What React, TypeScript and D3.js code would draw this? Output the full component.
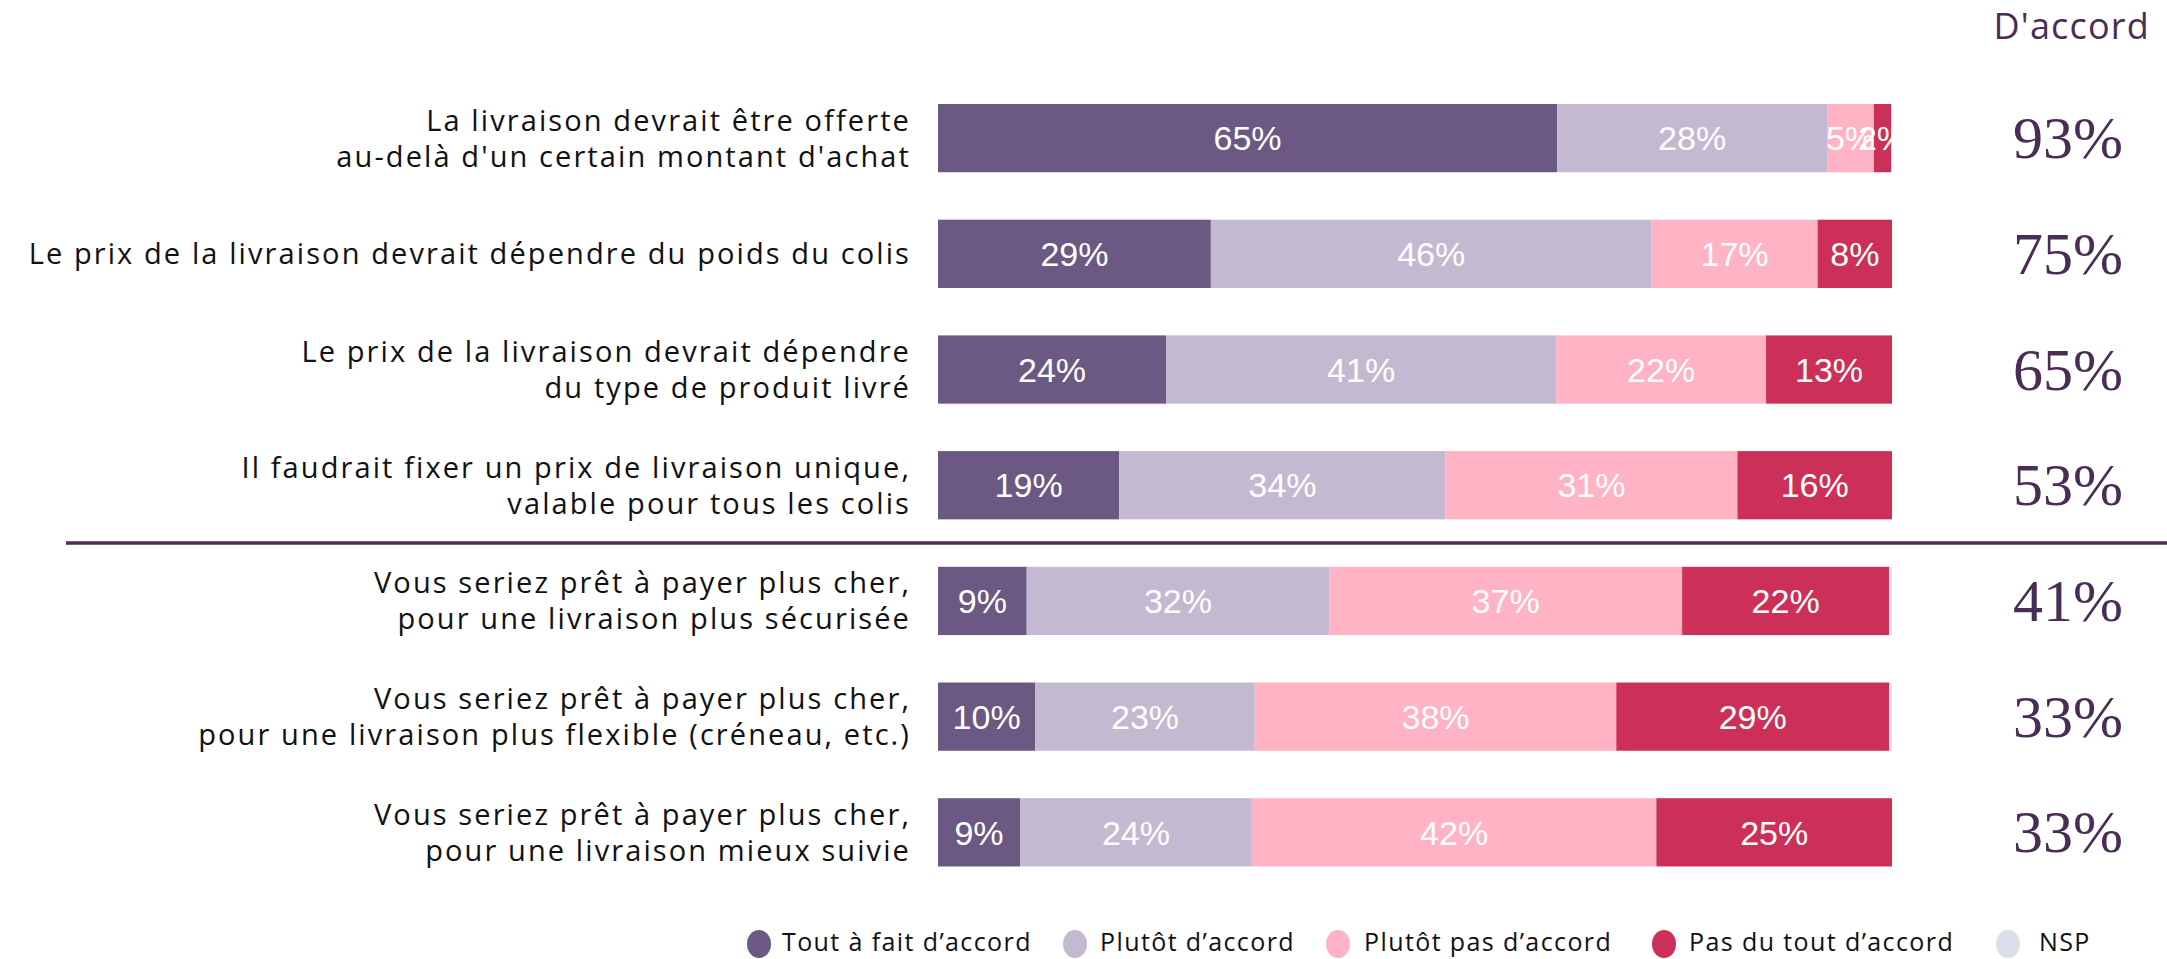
import React from "react";
import * as d3 from "d3";

const categories: string[][] = [
  ["La livraison devrait être offerte", "au-delà d'un certain montant d'achat"],
  ["Le prix de la livraison devrait dépendre du poids du colis"],
  ["Le prix de la livraison devrait dépendre", "du type de produit livré"],
  ["Il faudrait fixer un prix de livraison unique,", "valable pour tous les colis"],
  ["Vous seriez prêt à payer plus cher,", "pour une livraison plus sécurisée"],
  ["Vous seriez prêt à payer plus cher,", "pour une livraison plus flexible (créneau, etc.)"],
  ["Vous seriez prêt à payer plus cher,", "pour une livraison mieux suivie"],
];

const seriesNames = ["Tout à fait d’accord", "Plutôt d’accord", "Plutôt pas d’accord", "Pas du tout d’accord", "NSP"];
const seriesColors = ["#6b5883", "#c3b9d1", "#ffb3c5", "#cc3058", "#dcdee9"];

const toutAFait = [64.9, 28.6, 23.9, 19.0, 9.3, 10.2, 8.6];
const plutot = [28.3, 46.2, 40.9, 34.2, 31.7, 23.0, 24.3];
const plutotPas = [4.9, 17.4, 22.0, 30.6, 37.0, 37.9, 42.4];
const pasDuTout = [1.8, 7.8, 13.2, 16.2, 21.7, 28.6, 24.7];
const nsp = [0.1, 0.0, 0.0, 0.0, 0.3, 0.3, 0.0];

const agreeTitle = "D'accord";

const W = 2167;
const H = 959;

export default function App() {
  const series = [toutAFait, plutot, plutotPas, pasDuTout, nsp];
  const x = d3.scaleLinear().domain([0, 100]).range([938, 1892]);
  const y = d3
    .scaleBand<number>()
    .domain(categories.map((_, i) => i))
    .range([104 - 0.205 * 115.7, 104 - 0.205 * 115.7 + 7 * 115.7])
    .paddingInner(0.41)
    .paddingOuter(0.205);
  const bw = y.bandwidth();
  const dark = "#4a2d55";

  const stackData = categories.map((_, i) => {
    const o: Record<string, number> = { idx: i };
    series.forEach((s, k) => (o["s" + k] = s[i]));
    return o;
  });
  const stack = d3.stack<Record<string, number>>().keys(series.map((_, k) => "s" + k));
  const layers = stack(stackData);

  const dividerY = (y(3)! + bw + y(4)!) / 2;

  const legendX = [759, 1075, 1338, 1664, 2008];
  const legendTextX = [782, 1100, 1364, 1689, 2039];

  return (
    <svg
      width={W}
      height={H}
      style={{ position: "absolute", left: 0, top: 0, display: "block", background: "#fff" }}
    >
      <defs>
        <clipPath id="barclip">
          <rect x={x(0)} y={0} width={x(100) - x(0)} height={H} />
        </clipPath>
      </defs>

      {/* header */}
      <text
        x={2150}
        y={39}
        textAnchor="end"
        fontFamily="'Open Sans', sans-serif"
        fontSize={36}
        letterSpacing={1.2}
        fill={dark}
      >
        {agreeTitle}
      </text>

      {/* category labels */}
      {categories.map((lines, i) => {
        const cy = y(i)! + bw / 2;
        const lh = 36;
        const start = cy - ((lines.length - 1) * lh) / 2;
        return (
          <text
            key={"lab" + i}
            textAnchor="end"
            fontFamily="'Open Sans', sans-serif"
            fontSize={29}
            letterSpacing={2.1}
            fill="#111"
          >
            {lines.map((l, j) => (
              <tspan key={j} x={911} y={start + j * lh} dy="0.36em">
                {l}
              </tspan>
            ))}
          </text>
        );
      })}

      {/* bars */}
      {layers.map((layer, k) => (
        <g key={"layer" + k} fill={seriesColors[k]}>
          {layer.map((d, i) =>
            d[1] - d[0] > 0 ? (
              <rect
                key={i}
                x={x(d[0])}
                y={y(i)!}
                width={x(d[1]) - x(d[0])}
                height={bw}
              />
            ) : null
          )}
        </g>
      ))}

      {/* value labels */}
      <g clipPath="url(#barclip)">
        {layers.slice(0, 4).map((layer, k) => (
          <g key={"vl" + k}>
            {layer.map((d, i) => {
              const v = d[1] - d[0];
              if (v < 1) return null;
              return (
                <text
                  key={i}
                  x={x((d[0] + d[1]) / 2)}
                  y={y(i)! + bw / 2}
                  dy="0.36em"
                  textAnchor="middle"
                  fontFamily="'Liberation Sans', Arial, sans-serif"
                  fontSize={34}
                  fill="#fff"
                >
                  {Math.round(v) + "%"}
                </text>
              );
            })}
          </g>
        ))}
      </g>

      {/* divider */}
      <line x1={66} x2={W} y1={dividerY} y2={dividerY} stroke={dark} strokeWidth={3.5} />

      {/* agree totals */}
      {categories.map((_, i) => (
        <text
          key={"ag" + i}
          x={2068}
          y={y(i)! + bw / 2 + 20}
          textAnchor="middle"
          fontFamily="'Liberation Serif', 'Times New Roman', serif"
          fontSize={60}
          fill={dark}
        >
          {Math.round(toutAFait[i] + plutot[i]) + "%"}
        </text>
      ))}

      {/* legend */}
      {seriesNames.map((n, k) => (
        <g key={"leg" + k}>
          <ellipse cx={legendX[k]} cy={944} rx={12} ry={14} fill={seriesColors[k]} />
          <text
            x={legendTextX[k]}
            y={942}
            dy="0.35em"
            fontFamily="'Open Sans', sans-serif"
            fontSize={25}
            letterSpacing={1.4}
            fill="#111"
          >
            {n}
          </text>
        </g>
      ))}
    </svg>
  );
}
